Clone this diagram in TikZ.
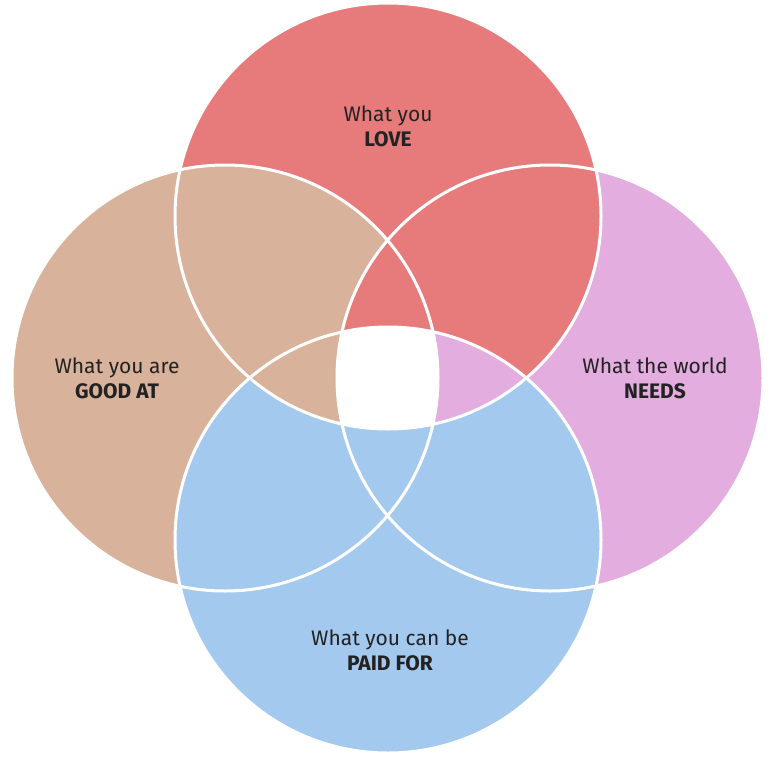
\documentclass[tikz,border=0pt]{standalone}
\usepackage{fontspec}
\setmainfont{Fira Sans}
\definecolor{cred}{HTML}{E77B7B}
\definecolor{ctan}{HTML}{D9B29B}
\definecolor{cpink}{HTML}{E3ADDF}
\definecolor{cblue}{HTML}{A4C9EE}
\definecolor{ctext}{HTML}{222222}
\begin{document}
\begin{tikzpicture}[x=1pt,y=-1pt,
  lab/.style={font=\fontsize{21}{25}\selectfont\color{ctext},align=center}]
\useasboundingbox (0,0) rectangle (781,771);
\def\R{213}
\def\T{(388,216) circle[radius=\R]}
\def\L{(225,378) circle[radius=\R]}
\def\Ri{(550,378) circle[radius=\R]}
\def\B{(388,540) circle[radius=\R]}
\fill[cpink] \Ri;
\fill[cred] \T;
\fill[ctan] \L;
\fill[cblue] \B;
\begin{scope}\clip \T; \clip \L; \fill[cred] \Ri; \end{scope}
\begin{scope}\clip \T; \clip \Ri; \fill[cpink] \B; \end{scope}
\begin{scope}\clip \L; \clip \B; \fill[ctan] \T; \end{scope}
\begin{scope}\clip \L; \clip \B; \clip \T; \fill[white] \Ri; \end{scope}
\draw[white,line width=3] \T \L \Ri \B;
\node[lab] (love) at (388,126) {What you\\\textbf{LOVE}};
\node[lab] (good) at (117,378) {What you are\\\textbf{GOOD AT}};
\node[lab] (needs) at (655,378) {What the world\\\textbf{NEEDS}};
\node[lab] (paid) at (390,650) {What you can be\\\textbf{PAID FOR}};
\end{tikzpicture}
\end{document}
